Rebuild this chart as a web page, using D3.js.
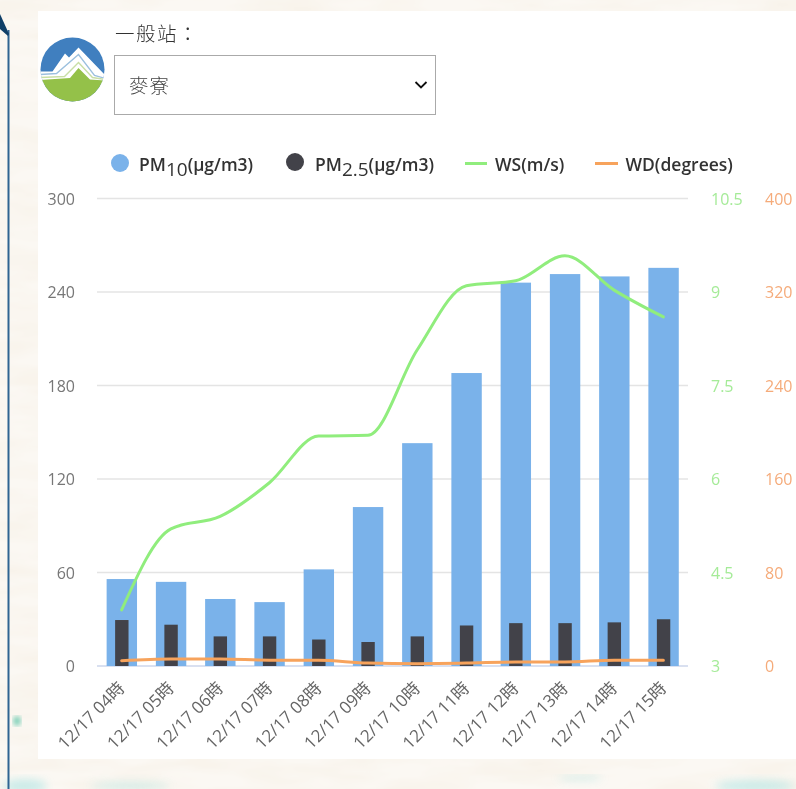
<!DOCTYPE html>
<html><head><meta charset="utf-8">
<script src="https://cdnjs.cloudflare.com/ajax/libs/d3/7.8.5/d3.min.js"></script>
<style>html,body{margin:0;padding:0;background:#fbf8f3;overflow:hidden}svg{display:block}
text{font-family:"Open Sans","Noto Sans CJK TC",sans-serif}</style></head><body><div id="c"></div>
<script>
const categories=["12/17 04時","12/17 05時","12/17 06時","12/17 07時","12/17 08時","12/17 09時","12/17 10時","12/17 11時","12/17 12時","12/17 13時","12/17 14時","12/17 15時"];
const pm10=[55.8,54,43,41,62,102,143,188,246,251.5,250,255.5];
const pm25=[29.5,26.5,19,19,17,15.4,19,26,27.5,27.5,28,30];
const ws=[3.9,5.2,5.4,5.94,6.69,6.7,8.07,9.1,9.18,9.58,9.03,8.6];
const wd=[4.5,6,6,5,5,2.5,2,2.5,3.5,3.5,5,5];
const leftTicks=[0,60,120,180,240,300];
const wsTicks=[3,4.5,6,7.5,9,10.5];
const wdTicks=[0,80,160,240,320,400];
const colors={pm10:"#7ab2ea",pm25:"#434348",ws:"#90ed7d",wd:"#f7a35c"};
const W=796,H=789;
const svg=d3.select("#c").append("svg").attr("width",W).attr("height",H);
const defs=svg.append("defs");
const f=defs.append("filter").attr("id","tex").attr("x",0).attr("y",0).attr("width","100%").attr("height","100%");
f.append("feTurbulence").attr("type","fractalNoise").attr("baseFrequency","0.012 0.05").attr("numOctaves",3).attr("seed",4);
f.append("feColorMatrix").attr("values","0 0 0 0 0.92  0 0 0 0 0.86  0 0 0 0 0.77  1.1 0 0 0 -0.38");
defs.append("filter").attr("id","soft").append("feGaussianBlur").attr("stdDeviation",0.35);
defs.append("filter").attr("id","blur6").append("feGaussianBlur").attr("stdDeviation",4);
defs.append("filter").attr("id","blur2").append("feGaussianBlur").attr("stdDeviation",2.5);

// page background
svg.append("rect").attr("width",W).attr("height",H).attr("fill","#fbf8f3");
svg.append("rect").attr("width",W).attr("height",H).attr("filter","url(#tex)");
const teal=svg.append("g").attr("filter","url(#blur6)").attr("fill","#bfe8e6").attr("opacity",.8);
[[25,786,22,7],[130,786,40,3],[755,786,40,6],[580,778,22,2]].forEach(d=>teal.append("ellipse").attr("cx",d[0]).attr("cy",d[1]).attr("rx",d[2]).attr("ry",d[3]));
svg.append("ellipse").attr("cx",17).attr("cy",721).attr("rx",4).attr("ry",5).attr("fill","#7fd0b8").attr("filter","url(#blur2)");
// side frame
svg.append("rect").attr("x",7.5).attr("y",30).attr("width",2).attr("height",H-30).attr("fill","#2f6491");
svg.append("path").attr("d","M0 14L9 34L8 36L0 29Z").attr("fill","#0f3f68");
// white panel
svg.append("rect").attr("x",38).attr("y",11).attr("width",W-38).attr("height",748).attr("fill","#fff");

const root=svg.append("g").attr("filter","url(#soft)");
// logo
const lg=root.append("g").attr("transform","translate(72.5,69.5)");
defs.append("clipPath").attr("id","lc").append("circle").attr("r",32);
const lc=lg.append("g").attr("clip-path","url(#lc)");
lc.append("rect").attr("x",-33).attr("y",-33).attr("width",66).attr("height",66).attr("fill","#3f7fbf");
lc.append("path").attr("d","M-33 2L-20 2L-7.5 -16L-3.5 -12L6 -22L33 6L33 14L-33 14Z").attr("fill","#fff");
lc.append("path").attr("d","M-33 5L-16 4L6 -15L22 6L33 9").attr("fill","none").attr("stroke","#9cc0de").attr("stroke-width",1.4);
lc.append("path").attr("d","M-33 8L-8 7L6 -7L20 8L33 10").attr("fill","none").attr("stroke","#c9dfa6").attr("stroke-width",1.4);
lc.append("path").attr("d","M-33 10.5L-2.5 8.5L6 -1.5L17.5 10L33 11L33 33L-33 33Z").attr("fill","#94c14a");
// select label & box
root.append("text").attr("x",115).attr("y",41).attr("font-size",19.5).attr("fill","#333").style("font-family",'"Noto Sans CJK TC"').attr("font-weight",300).attr("letter-spacing",1.5).text("一般站：");
root.append("rect").attr("x",114.5).attr("y",55.5).attr("width",321).attr("height",59).attr("fill","#fff").attr("stroke","#aaa").attr("stroke-width",1);
root.append("text").attr("x",129).attr("y",93).attr("font-size",19.5).attr("fill","#444").style("font-family",'"Noto Sans CJK TC"').attr("font-weight",300).attr("letter-spacing",1).text("麥寮");
root.append("path").attr("d","M415.5 82L421 87.5L426.5 82").attr("fill","none").attr("stroke","#111").attr("stroke-width",1.8);

// scales
const m={l:97,r:688,t:198.5,b:666};
const x=d3.scaleBand().domain(categories).range([m.l,m.r]);
const y=d3.scaleLinear().domain([0,300]).range([m.b,m.t]);
const yWs=d3.scaleLinear().domain([3,10.5]).range([m.b,m.t]);
const yWd=d3.scaleLinear().domain([0,400]).range([m.b,m.t]);
const cx=c=>x(c)+x.bandwidth()/2;

// grid
root.append("g").selectAll("line").data(leftTicks).join("line")
 .attr("x1",m.l).attr("x2",m.r).attr("y1",d=>y(d)).attr("y2",d=>y(d))
 .attr("stroke",d=>d===0?"#ccd6eb":"#e4e4e4").attr("stroke-width",1.5);

// axis labels
const tickText=(sel,data,xp,scale,col,anchor)=>sel.append("g").selectAll("text").data(data).join("text")
 .attr("x",xp).attr("y",d=>scale(d)+6).attr("text-anchor",anchor).attr("font-size",16).attr("fill",col).text(d=>d);
tickText(root,leftTicks,75,y,"#777","end");
tickText(root,wsTicks,711,yWs,"#a5eb98","start");
tickText(root,wdTicks,765,yWd,"#f5ab7a","start");

// bars
root.append("g").selectAll("rect").data(categories).join("rect")
 .attr("x",c=>cx(c)-15).attr("width",30.4).attr("y",(c,i)=>y(pm10[i])).attr("height",(c,i)=>m.b-y(pm10[i])).attr("fill",colors.pm10);
root.append("g").selectAll("rect").data(categories).join("rect")
 .attr("x",c=>cx(c)-6.5).attr("width",13.4).attr("y",(c,i)=>y(pm25[i])).attr("height",(c,i)=>m.b-y(pm25[i])).attr("fill",colors.pm25);

// lines
const lineWs=d3.line().x((d,i)=>cx(categories[i])).y(d=>yWs(d)).curve(d3.curveMonotoneX);
const lineWd=d3.line().x((d,i)=>cx(categories[i])).y(d=>yWd(d)).curve(d3.curveMonotoneX);
root.append("path").attr("d",lineWs(ws)).attr("fill","none").attr("stroke",colors.ws).attr("stroke-width",3).attr("stroke-linecap","round");
root.append("path").attr("d",lineWd(wd)).attr("fill","none").attr("stroke",colors.wd).attr("stroke-width",3).attr("stroke-linecap","round");

// x labels
root.append("g").selectAll("text").data(categories).join("text")
 .attr("transform",c=>`translate(${cx(c)},${685}) rotate(-45)`).attr("text-anchor","end")
 .attr("font-size",17).attr("fill","#666").attr("dy",6).text(c=>c);

// legend
const lgd=root.append("g").attr("font-size",17.5).attr("font-weight",600).attr("fill","#333");
const sub=(xp,s)=>{const t=lgd.append("text").attr("x",xp).attr("y",171);
 t.append("tspan").text("PM");t.append("tspan").attr("font-size",19).attr("font-weight",400).attr("dy",5).text(s);t.append("tspan").attr("dy",-5).text("(μg/m3)");};
sub(139,"10");sub(315,"2.5");
lgd.append("text").attr("x",495).attr("y",171).text("WS(m/s)");
lgd.append("text").attr("x",625.5).attr("y",171).text("WD(degrees)");
root.append("circle").attr("cx",120).attr("cy",163).attr("r",9).attr("fill",colors.pm10);
root.append("circle").attr("cx",295).attr("cy",162).attr("r",9).attr("fill",colors.pm25);
root.append("line").attr("x1",465).attr("x2",487).attr("y1",163.5).attr("y2",163.5).attr("stroke",colors.ws).attr("stroke-width",3);
root.append("line").attr("x1",595).attr("x2",618).attr("y1",163.5).attr("y2",163.5).attr("stroke",colors.wd).attr("stroke-width",3);
</script></body></html>
